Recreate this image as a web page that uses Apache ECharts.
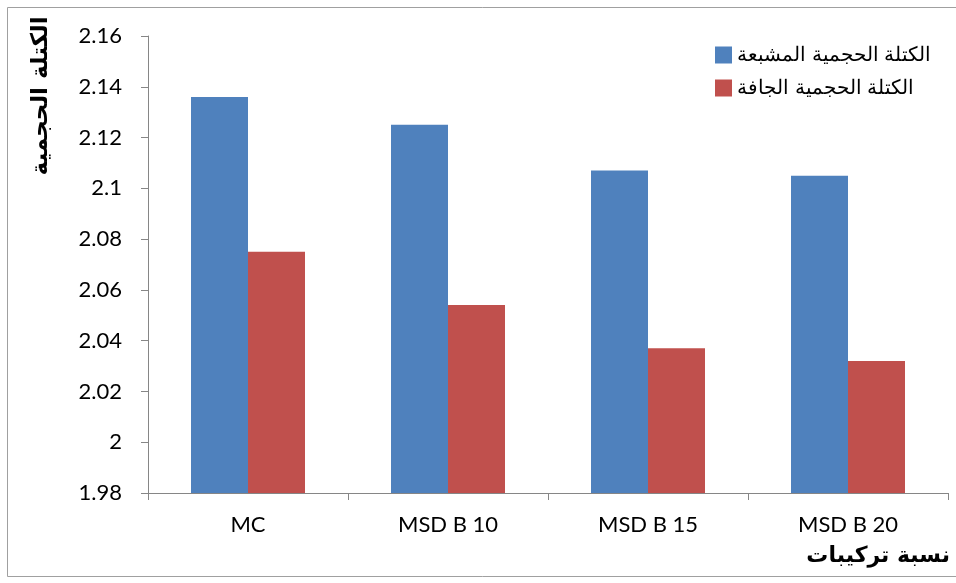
<!DOCTYPE html>
<html><head><meta charset="utf-8">
<script src="https://cdn.jsdelivr.net/npm/echarts@6/dist/echarts.min.js"></script>
<style>html,body{margin:0;padding:0;background:#fff}#c{width:956px;height:583px}</style>
</head><body><div id="c"></div>
<script>
const categories = ['MC', 'MSD B 10', 'MSD B 15', 'MSD B 20'];
const saturated = [2.136, 2.125, 2.107, 2.105];
const dry = [2.075, 2.054, 2.037, 2.032];
const seriesNames = ['الكتلة الحجمية المشبعة', 'الكتلة الحجمية الجافة'];
const yTitle = 'الكتلة الحجمية';
const xTitle = 'نسبة تركيبات';

const chart = echarts.init(document.getElementById('c'));
const axisColor = '#868686';
chart.setOption({
  animation: false,
  grid: {left: 148, right: 8, top: 36, bottom: 90, containLabel: false},
  legend: {
    orient: 'vertical', left: 710, top: 40, itemGap: 13,
    itemWidth: 17, itemHeight: 17, icon: 'rect',
    textStyle: {fontFamily: 'Liberation Sans, Arial', fontSize: 20, color: '#000'},
    data: seriesNames
  },
  xAxis: {
    type: 'category', data: categories,
    axisLine: {lineStyle: {color: axisColor}},
    axisTick: {show: true, length: 7, lineStyle: {color: axisColor}},
    axisLabel: {margin: 21, fontFamily: 'Lato, Open Sans', fontSize: 22, color: '#000'}
  },
  yAxis: {
    type: 'value', min: 1.98, max: 2.16, interval: 0.02,
    splitLine: {show: false},
    axisLine: {show: true, lineStyle: {color: axisColor}},
    axisTick: {show: true, length: 7, lineStyle: {color: axisColor}},
    axisLabel: {margin: 26, fontFamily: 'Lato, Open Sans', fontSize: 22, color: '#000',
      formatter: v => String(parseFloat(v.toFixed(2)))}
  },
  series: [
    {name: seriesNames[0], type: 'bar', data: saturated, barGap: '0%', barCategoryGap: '43%',
      itemStyle: {color: '#4F81BD'}},
    {name: seriesNames[1], type: 'bar', data: dry, barGap: '0%', barCategoryGap: '43%',
      itemStyle: {color: '#C0504D'}}
  ],
  graphic: [
    {type: 'rect', shape: {x: 7.5, y: 7.5, width: 960, height: 569}, style: {fill: 'none', stroke: '#A0A0A0', lineWidth: 1}, silent: true},
    {type: 'text', x: 41, y: 96, rotation: Math.PI / 2,
      style: {text: yTitle, align: 'center', verticalAlign: 'middle', font: 'bold 23px "DejaVu Sans", "Noto Sans"', fill: '#000'}},
    {type: 'text', x: 950, y: 556,
      style: {text: xTitle, align: 'right', verticalAlign: 'middle', font: 'bold 22px "DejaVu Sans", "Noto Sans"', fill: '#000'}}
  ]
});
</script></body></html>
